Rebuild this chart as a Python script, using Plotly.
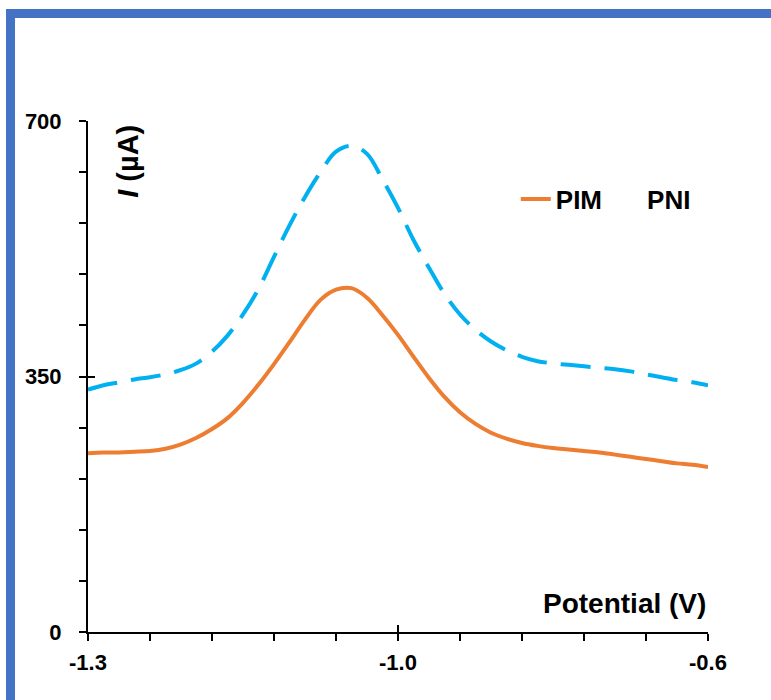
import numpy as np
import plotly.graph_objects as go

# Square-wave voltammograms: potential (V) vs current (µA)
potential = [-1.3000, -1.2825, -1.2650, -1.2475, -1.2300, -1.2125, -1.1950, -1.1775,
             -1.1600, -1.1425, -1.1250, -1.1075, -1.0900, -1.0725, -1.0550, -1.0375,
             -1.0200, -1.0025, -0.9850, -0.9675, -0.9500, -0.9325, -0.9150, -0.8975,
             -0.8800, -0.8625, -0.8450, -0.8275, -0.8100, -0.7925, -0.7750, -0.7575,
             -0.7400, -0.7225, -0.7050, -0.6875, -0.6700, -0.6525, -0.6350, -0.6175,
             -0.6000]
pim_current = [245, 246, 246, 247, 248, 251, 257, 266,
               278, 293, 314, 339, 367, 397, 428, 455,
               469, 471, 458, 434, 407, 377, 348, 322,
               301, 285, 273, 265, 259, 255, 252, 250,
               248, 246, 243, 240, 237, 234, 231, 229,
               226]
pni_current = [332, 338, 342, 346, 349, 353, 359, 368,
               384, 406, 435, 470, 514, 557, 596, 630,
               658, 666, 655, 620, 581, 537, 499, 463,
               435, 414, 398, 386, 377, 371, 368, 366,
               364, 362, 360, 357, 353, 349, 345, 342,
               338]

series_names = ["PIM", "PNI"]
x_tick_values = [-1.3, -0.95, -0.6]
x_tick_labels = ["-1.3", "-1.0", "-0.6"]
y_tick_values = [0, 350, 700]
y_tick_labels = ["0", "350", "700"]

X_RANGE = [-1.3, -0.6]
Y_RANGE = [0, 700]
ORANGE = "#ED7D31"
BLUE = "#00B0F0"
FRAME = "#4472C4"
FONT = "Liberation Sans, Arial, sans-serif"

fig = go.Figure()

fig.add_trace(go.Scatter(
    x=potential, y=pim_current, name=series_names[0], mode="lines",
    line=dict(color=ORANGE, width=4, shape="spline", smoothing=1.0),
))

# dashed curve sits on the overlay axes (same ranges) that carry the inner halves of the major ticks
fig.add_trace(go.Scatter(
    x=potential, y=pni_current, name=series_names[1], mode="lines",
    line=dict(color=BLUE, width=4, shape="spline", smoothing=1.0, dash="30px,14px"),
    xaxis="x2", yaxis="y2", showlegend=False, legendgroup="pni",
))
# legend entry for the dashed series shows only its label
fig.add_trace(go.Scatter(
    x=[None], y=[None], name=series_names[1], mode="lines",
    line=dict(color=BLUE, width=0), legendgroup="pni",
))

tick_font = dict(family=FONT, size=22, color="black", weight="bold")

common_axis = dict(showgrid=False, zeroline=False, linecolor="black", linewidth=2,
                   tickcolor="black", tickwidth=2, tickfont=tick_font)

fig.update_layout(
    width=771, height=700,
    margin=dict(l=88, r=63, t=121, b=68),
    paper_bgcolor="white", plot_bgcolor="white",
    font=dict(family=FONT, color="black"),
    xaxis=dict(
        range=X_RANGE, showline=True, ticks="outside", ticklen=7,
        tickmode="array", tickvals=x_tick_values, ticktext=x_tick_labels,
        ticklabelstandoff=3,
        minor=dict(tickmode="array", tickvals=list(np.linspace(X_RANGE[0], X_RANGE[1], 11)),
                   ticks="outside", ticklen=7, tickwidth=2, tickcolor="black"),
        **common_axis,
    ),
    yaxis=dict(
        range=Y_RANGE, showline=True, ticks="outside", ticklen=7,
        tickmode="array", tickvals=y_tick_values, ticktext=y_tick_labels,
        ticklabelstandoff=13,
        minor=dict(tickmode="array", tickvals=list(np.linspace(Y_RANGE[0], Y_RANGE[1], 11)),
                   ticks="outside", ticklen=7, tickwidth=2, tickcolor="black"),
        **common_axis,
    ),
    xaxis2=dict(
        range=X_RANGE, overlaying="x", anchor="y2", showline=False, ticks="inside", ticklen=7,
        tickmode="array", tickvals=x_tick_values, showticklabels=False,
        showgrid=False, zeroline=False, tickcolor="black", tickwidth=2,
    ),
    yaxis2=dict(
        range=Y_RANGE, overlaying="y", anchor="x2", showline=False, ticks="inside", ticklen=7,
        tickmode="array", tickvals=y_tick_values, showticklabels=False,
        showgrid=False, zeroline=False, tickcolor="black", tickwidth=2,
    ),
    legend=dict(
        orientation="h", x=0.69, y=0.847, xanchor="left", yanchor="middle",
        font=dict(family=FONT, size=26, color="black", weight="bold"),
        bgcolor="rgba(0,0,0,0)", itemclick=False,
    ),
    showlegend=True,
)

# axis titles placed inside the plotting area
fig.add_annotation(
    text="<b>Potential (V)</b>", xref="paper", yref="paper", x=1.0, y=0.055,
    xanchor="right", yanchor="middle", showarrow=False,
    font=dict(family=FONT, size=28, color="black"),
)
fig.add_annotation(
    text="<b><i>I</i> (µA)</b>", xref="paper", yref="paper", x=0.0645, y=0.922,
    xanchor="center", yanchor="middle", showarrow=False, textangle=-90,
    font=dict(family=FONT, size=29, color="black"),
)

# blue frame along the top and left edges of the canvas
fig.add_shape(
    type="rect", xref="paper", yref="paper",
    x0=(10.5 - 88) / 620, x1=1.3, y0=-0.3, y1=(632 - 13.5) / 511,
    line=dict(color=FRAME, width=9), fillcolor="rgba(0,0,0,0)", layer="above",
)

fig.write_html("out.html")
